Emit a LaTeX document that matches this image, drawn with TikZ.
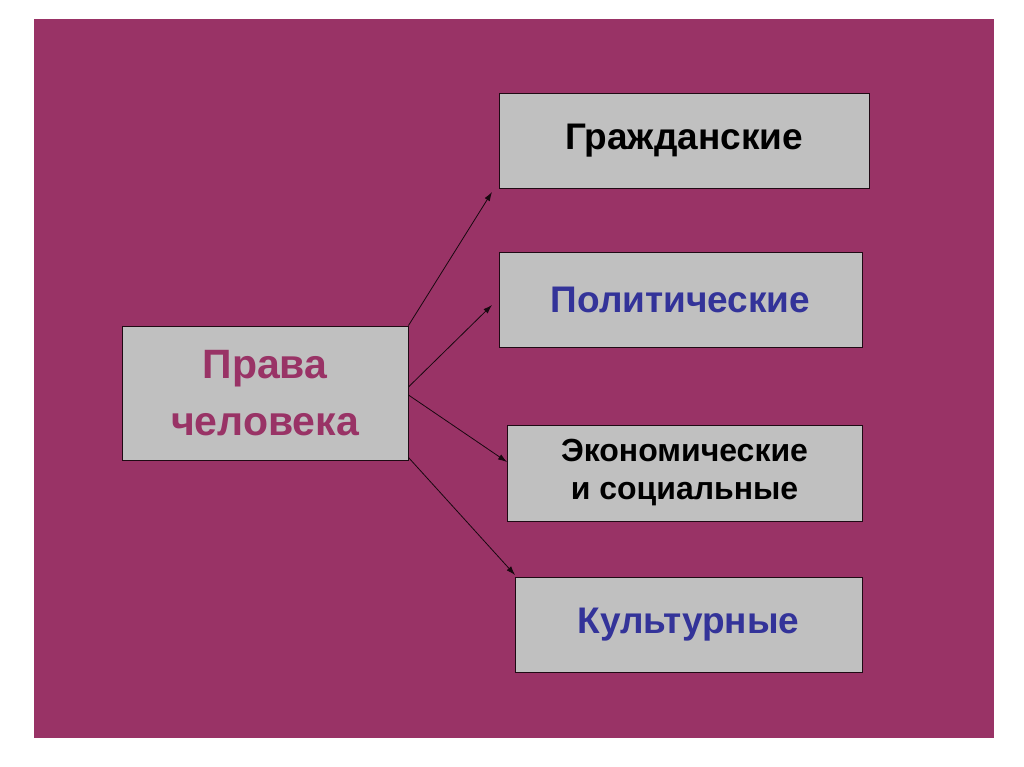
\documentclass[tikz,border=0pt]{standalone}
\usepackage{fontspec}
\setmainfont{Liberation Sans}
\usetikzlibrary{arrows.meta}
\definecolor{slide}{HTML}{993366}
\definecolor{boxgray}{HTML}{C0C0C0}
\definecolor{txtblue}{HTML}{333399}

\begin{document}
\begin{tikzpicture}[x=1pt,y=-1pt,
  box/.style={draw=black!80!slide,line width=0.9pt,fill=boxgray,inner sep=0pt,align=center},
  arr/.style={draw=black!85!slide,line width=0.8pt,-{Latex[length=9pt,width=6pt]}}]
\useasboundingbox[fill=white] (0,0) rectangle (1024,767);
\fill[slide] (34,19) rectangle (994,738);
% central box
\node[box,minimum width=286pt,minimum height=134pt,text=slide,font=\bfseries\fontsize{41}{57}\selectfont] (main) at (265,393) {Права\\человека};
% kinds of rights
\node[box,minimum width=370pt,minimum height=95pt,font=\bfseries\fontsize{37}{40}\selectfont] (civ) at (684,140.5) {Гражданские};
\node[box,minimum width=363pt,minimum height=95pt,text=txtblue,font=\bfseries\fontsize{37}{40}\selectfont] (pol) at (680.5,299.5) {Политические};
\node[box,minimum width=355pt,minimum height=96pt,font=\bfseries\fontsize{32}{38}\selectfont] (eco) at (684.5,473) {Экономические\\и социальные};
\node[box,minimum width=347pt,minimum height=95pt,text=txtblue,font=\bfseries\fontsize{37}{40}\selectfont] (cul) at (688.5,624.5) {Культурные};
% arrow ends
\coordinate (civend) at (492,192);
\coordinate (polend) at (492,305);
\coordinate (ecoend) at (507,462);
\coordinate (culend) at (515,575);
\draw[arr] (main.north east) -- (civend);
\draw[arr] ([yshift=6pt]main.east) -- (polend);
\draw[arr] ([yshift=-2pt]main.east) -- (ecoend);
\draw[arr] ([yshift=3pt]main.south east) -- (culend);
\end{tikzpicture}
\end{document}
